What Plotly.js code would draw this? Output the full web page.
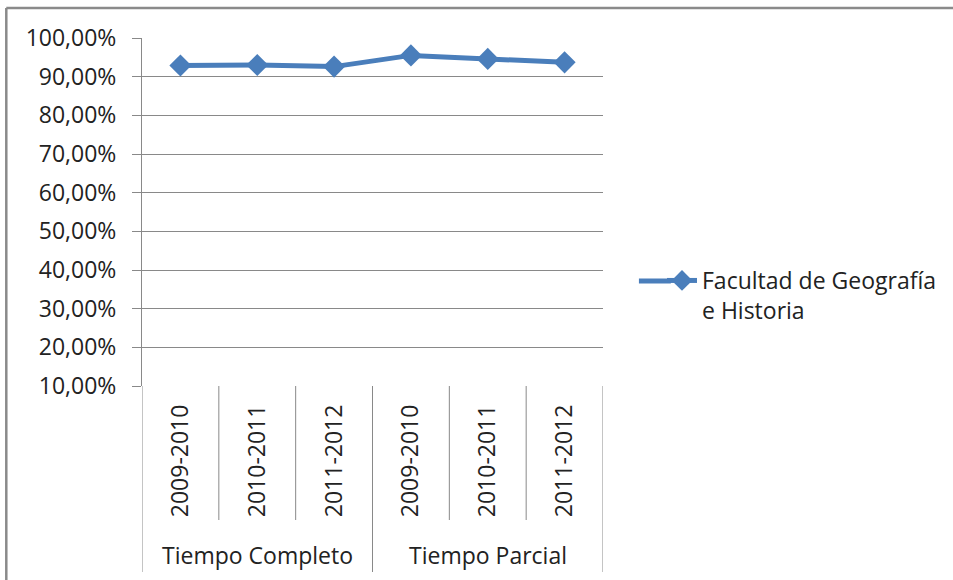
<!DOCTYPE html>
<html>
<head>
<meta charset="utf-8">
<script src="https://cdn.plot.ly/plotly-3.0.1.min.js"></script>
<style>html,body{margin:0;padding:0;background:#fff}#chart{width:953px;height:580px}</style>
</head>
<body>
<div id="chart"></div>
<script>
const groups = ["Tiempo Completo", "Tiempo Parcial"];
const years = ["2009-2010", "2010-2011", "2011-2012", "2009-2010", "2010-2011", "2011-2012"];
const values = [0.929, 0.930, 0.926, 0.955, 0.946, 0.937];
const seriesName = "Facultad de Geografía<br>e Historia";
const yTicks = [0.1, 0.2, 0.3, 0.4, 0.5, 0.6, 0.7, 0.8, 0.9, 1.0];

const idx = years.map((_, i) => i);
const FONT = "Open Sans, Lato, sans-serif";
const TXT = "#222222";
const GRID = "#898989";
const BLUE = "#4a7ebb";

const L = 142, R = 604, T = 38, B = 386, W = 953, H = 580;
const pw = R - L, ph = B - T;
const px = v => (v - L) / pw;
const py = v => (B - v) / ph;

const trace = {
  x: idx, y: values, type: "scatter", mode: "lines+markers",
  name: seriesName,
  line: {color: BLUE, width: 5},
  marker: {symbol: "diamond", size: 17, color: BLUE}
};

const shapes = [];
// separators between years (short) and group dividers (long)
for (let k = 0; k <= years.length; k++) {
  const xb = k - 0.5;
  const isGroup = (k % 3 === 0);
  shapes.push({type: "line", xref: "x", yref: "paper", x0: xb, x1: xb,
    y0: 0, y1: py(isGroup ? 572 : 520), line: {color: GRID, width: 1}});
}
// outer border (left and top)
shapes.push({type: "line", xref: "paper", yref: "paper", x0: px(6), x1: px(6), y0: py(8), y1: py(600), line: {color: "#8a8a8a", width: 2.5}});
shapes.push({type: "line", xref: "paper", yref: "paper", x0: px(6), x1: px(960), y0: py(8), y1: py(8), line: {color: "#8a8a8a", width: 2.5}});
// longer legend line (Excel-style legend key)
shapes.push({type: "line", xref: "paper", yref: "paper", x0: px(640), x1: px(672), y0: py(281), y1: py(281), line: {color: BLUE, width: 5}});

const annotations = groups.map((g, i) => ({
  text: g, x: i * 3 + 1, xref: "x", y: py(555), yref: "paper",
  showarrow: false, xanchor: "center", yanchor: "middle",
  font: {family: FONT, size: 23, color: TXT}
}));

const layout = {
  width: W, height: H,
  margin: {l: L, r: W - R, t: T, b: H - B, pad: 0},
  paper_bgcolor: "#ffffff", plot_bgcolor: "#ffffff",
  separators: ",.",
  font: {family: FONT, size: 23, color: TXT},
  showlegend: true,
  legend: {x: px(662), xanchor: "left", y: py(259), yanchor: "top", valign: "top",
    font: {family: FONT, size: 23, color: TXT}, bgcolor: "rgba(0,0,0,0)"},
  xaxis: {
    range: [-0.5, years.length - 0.5], tickmode: "array", tickvals: idx, ticktext: years,
    tickangle: -90, showgrid: false, zeroline: false, showline: false, ticks: "",
    ticklabelstandoff: 13, fixedrange: true,
    tickfont: {family: FONT, size: 23, color: TXT}
  },
  yaxis: {
    range: [0.1, 1.0], tickmode: "array", tickvals: yTicks, tickformat: ".2%",
    showgrid: true, gridcolor: GRID, gridwidth: 1, zeroline: false,
    showline: true, linecolor: GRID, linewidth: 1,
    ticks: "outside", ticklen: 9, tickcolor: GRID, ticklabelstandoff: 11,
    tickfont: {family: FONT, size: 23, color: TXT}, fixedrange: true
  },
  shapes: shapes,
  annotations: annotations
};

Plotly.newPlot("chart", [trace], layout, {displayModeBar: false, staticPlot: true});
</script>
</body>
</html>
